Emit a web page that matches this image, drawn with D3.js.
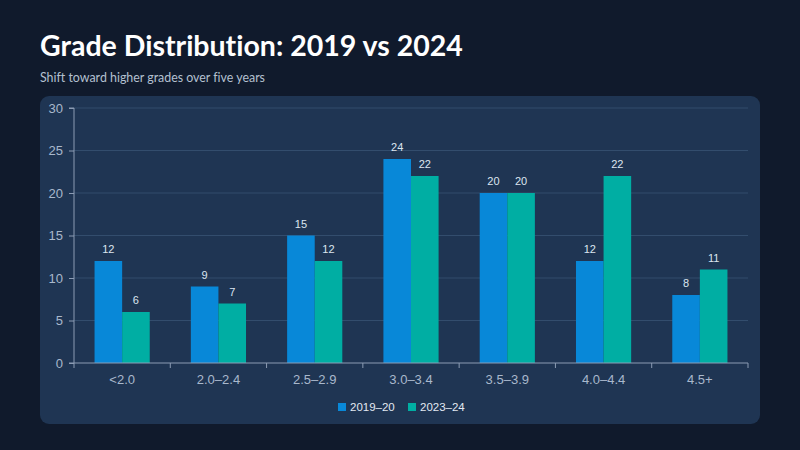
<!DOCTYPE html>
<html>
<head>
<meta charset="utf-8">
<script src="https://cdn.jsdelivr.net/npm/d3@7"></script>
<style>
  body { margin: 0; background: #101a2c; }
  svg { display: block; }
  text { font-variant-ligatures: none; }
</style>
</head>
<body>
<div class="canvas"></div>
<script>
const categories = ["<2.0", "2.0–2.4", "2.5–2.9", "3.0–3.4", "3.5–3.9", "4.0–4.4", "4.5+"];
const seriesNames = ["2019–20", "2023–24"];
const values2019 = [12, 9, 15, 24, 20, 12, 8];
const values2024 = [6, 7, 12, 22, 20, 22, 11];
const yTicks = [0, 5, 10, 15, 20, 25, 30];
const colors = ["#0888d8", "#00aea3"];

const svgWidth = 800;
const svgHeight = 450;
const margin = { t: 108, r: 52, b: 87, l: 74 };
const gWidth = svgWidth - margin.l - margin.r;
const gHeight = svgHeight - margin.t - margin.b;

const svg = d3
  .select(".canvas")
  .append("svg")
  .attr("width", svgWidth)
  .attr("height", svgHeight);

svg.append("rect")
  .attr("width", svgWidth)
  .attr("height", svgHeight)
  .attr("fill", "#101a2c");

// title + subtitle
svg.append("text")
  .attr("x", 40)
  .attr("y", 56)
  .attr("fill", "#ffffff")
  .attr("font-family", "Lato, 'Open Sans', sans-serif")
  .attr("font-weight", 700)
  .attr("font-size", 28.5)
  .text("Grade Distribution: 2019 vs 2024");

svg.append("text")
  .attr("x", 40)
  .attr("y", 82)
  .attr("fill", "#b4c0d0")
  .attr("font-family", "Lato, 'Open Sans', sans-serif")
  .attr("font-size", 12.4)
  .text("Shift toward higher grades over five years");

// panel
svg.append("rect")
  .attr("x", 40)
  .attr("y", 96)
  .attr("width", 720)
  .attr("height", 328)
  .attr("rx", 9)
  .attr("fill", "#1f3553");

const g = svg
  .append("g")
  .attr("transform", `translate(${margin.l}, ${margin.t})`);

const x0 = d3.scaleBand().domain(categories).range([0, gWidth]).padding(0);
const x1 = d3.scaleBand().domain(seriesNames).range([0, x0.bandwidth()])
  .paddingInner(0).paddingOuter(0.745);
const y = d3.scaleLinear().domain([0, 30]).range([gHeight, 0]);

// gridlines
g.append("g")
  .selectAll("line")
  .data(yTicks.filter(d => d > 0))
  .enter()
  .append("line")
  .attr("x1", 0)
  .attr("x2", gWidth)
  .attr("y1", d => y(d))
  .attr("y2", d => y(d))
  .attr("stroke", "#334d6d")
  .attr("stroke-width", 1);

const rows = categories.map((c, i) => ({
  cat: c,
  vals: [values2019[i], values2024[i]]
}));

const groups = g.selectAll(".grp")
  .data(rows)
  .enter()
  .append("g")
  .attr("class", "grp")
  .attr("transform", d => `translate(${x0(d.cat)}, 0)`);

groups.selectAll("rect")
  .data(d => d.vals.map((v, j) => ({ key: seriesNames[j], v, j })))
  .enter()
  .append("rect")
  .attr("x", d => x1(d.key))
  .attr("y", d => y(d.v))
  .attr("width", x1.bandwidth())
  .attr("height", d => gHeight - y(d.v))
  .attr("fill", d => colors[d.j]);

groups.selectAll(".val")
  .data(d => d.vals.map((v, j) => ({ key: seriesNames[j], v, j })))
  .enter()
  .append("text")
  .attr("class", "val")
  .attr("x", d => x1(d.key) + x1.bandwidth() / 2)
  .attr("y", d => y(d.v) - 8)
  .attr("text-anchor", "middle")
  .attr("fill", "#dce5f0")
  .attr("font-family", "'Liberation Sans', Arial, sans-serif")
  .attr("font-size", 11)
  .text(d => d.v);

// axes
const xAxis = d3.axisBottom(x0).tickSize(0).tickPadding(12);
const yAxis = d3.axisLeft(y).tickValues(yTicks).tickSize(5).tickPadding(6);

const xAxisGroup = g.append("g")
  .attr("transform", `translate(0, ${gHeight})`)
  .call(xAxis);

// tick marks at band boundaries
xAxisGroup.selectAll(".bound")
  .data(d3.range(categories.length + 1))
  .enter()
  .append("line")
  .attr("class", "bound")
  .attr("x1", i => i * x0.step())
  .attr("x2", i => i * x0.step())
  .attr("y1", 0)
  .attr("y2", 5)
  .attr("stroke", "#8c9cb4");

const yAxisGroup = g.append("g").call(yAxis);

[xAxisGroup, yAxisGroup].forEach(ax => {
  ax.select(".domain").attr("stroke", "#8c9cb4");
  ax.selectAll(".tick line").attr("stroke", "#8c9cb4");
  ax.selectAll("text")
    .attr("fill", "#a9b8cc")
    .attr("font-family", "'Liberation Sans', Arial, sans-serif")
    .attr("font-size", 13);
});
yAxisGroup.select(".domain").attr("d", `M-5,${gHeight}H0V0H-5`);
xAxisGroup.select(".domain").attr("d", `M0,0H${gWidth}`);

// legend
const legend = svg.append("g").attr("transform", "translate(338, 407)");
const items = legend.selectAll("g")
  .data(seriesNames)
  .enter()
  .append("g")
  .attr("transform", (d, i) => `translate(${i * 70}, 0)`);

items.append("rect")
  .attr("x", 0)
  .attr("y", -4)
  .attr("width", 8)
  .attr("height", 8)
  .attr("fill", (d, i) => colors[i]);

items.append("text")
  .attr("x", 12)
  .attr("y", 4)
  .attr("fill", "#e2e9f2")
  .attr("font-family", "'Liberation Sans', Arial, sans-serif")
  .attr("font-size", 11.5)
  .text(d => d);
</script>
</body>
</html>
